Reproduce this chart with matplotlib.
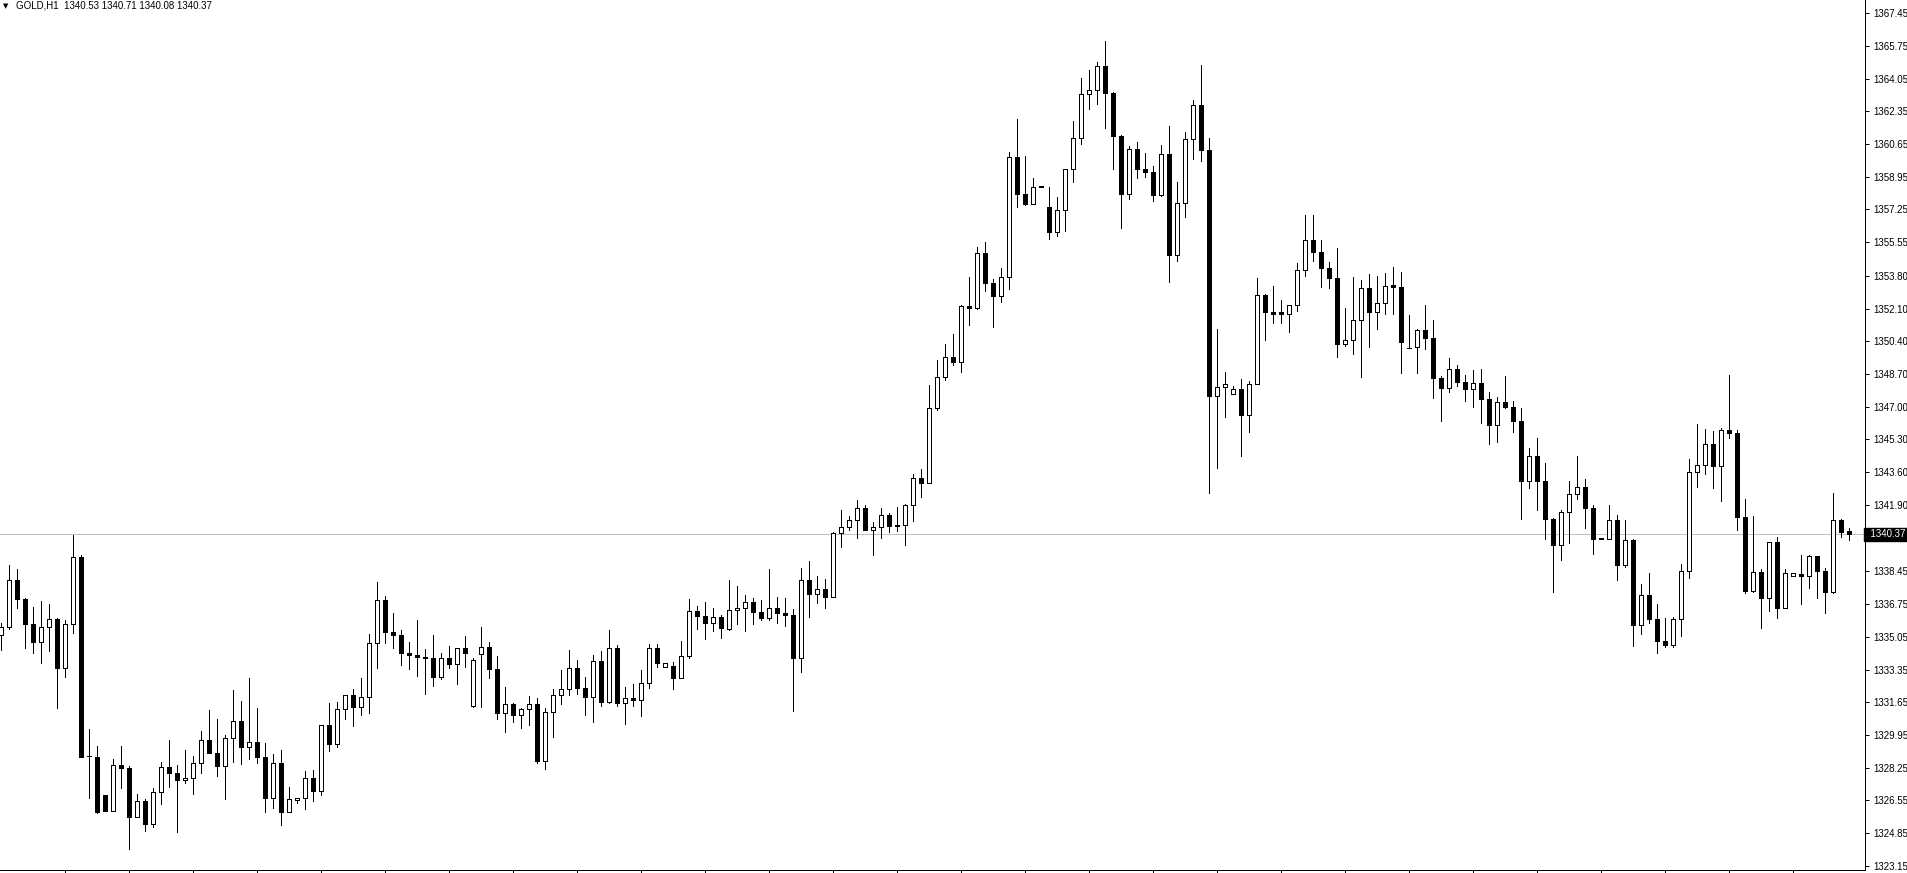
import numpy as np
import matplotlib.pyplot as plt
import matplotlib.transforms as mtransforms

plt.rcParams['font.family'] = ['Liberation Sans', 'DejaVu Sans']

symbol = "GOLD,H1"

opens = [
    1335.14, 1335.54, 1338.00, 1337.00, 1335.70, 1334.80, 1335.54, 1335.96, 1333.41, 1335.71,
    1339.18, 1328.86, 1328.79, 1326.83, 1326.02, 1328.39, 1328.25, 1325.67, 1326.52, 1325.31,
    1326.97, 1328.27, 1327.99, 1327.59, 1327.70, 1328.48, 1329.67, 1329.03, 1328.34, 1329.78,
    1330.66, 1329.34, 1329.57, 1328.83, 1326.68, 1328.48, 1325.96, 1326.56, 1326.66, 1327.70,
    1327.05, 1330.47, 1329.46, 1331.28, 1332.03, 1331.39, 1331.91, 1334.71, 1336.95, 1335.31,
    1335.16, 1334.22, 1334.12, 1334.02, 1333.96, 1332.98, 1333.93, 1333.65, 1334.45, 1331.47,
    1334.14, 1334.54, 1333.36, 1331.11, 1331.54, 1331.00, 1331.28, 1331.54, 1328.60, 1331.13,
    1332.03, 1332.32, 1333.41, 1332.40, 1331.94, 1333.77, 1331.68, 1334.45, 1331.63, 1331.85,
    1331.78, 1332.63, 1334.45, 1333.46, 1333.55, 1332.93, 1334.04, 1336.37, 1336.11, 1335.78,
    1336.06, 1335.45, 1336.43, 1336.53, 1336.84, 1336.32, 1336.04, 1336.53, 1336.27, 1336.20,
    1333.96, 1337.98, 1337.29, 1337.52, 1337.10, 1340.43, 1340.74, 1341.12, 1341.72, 1340.61,
    1340.74, 1341.36, 1340.82, 1340.84, 1341.88, 1343.28, 1343.05, 1346.92, 1348.56, 1349.57,
    1349.34, 1352.23, 1352.11, 1354.97, 1353.41, 1352.77, 1353.72, 1359.97, 1358.04, 1357.55,
    1358.47, 1357.36, 1356.06, 1357.21, 1359.34, 1360.95, 1363.23, 1363.44, 1364.69, 1363.31,
    1361.08, 1358.07, 1360.39, 1359.37, 1359.21, 1358.02, 1360.11, 1354.90, 1357.57, 1360.89,
    1362.66, 1360.35, 1347.57, 1348.01, 1347.65, 1347.90, 1346.59, 1348.18, 1352.79, 1351.94,
    1351.91, 1351.84, 1352.27, 1354.09, 1355.65, 1355.02, 1354.22, 1353.70, 1350.28, 1350.45,
    1351.49, 1353.15, 1351.94, 1352.37, 1353.31, 1353.24, 1350.07, 1350.12, 1350.99, 1350.59,
    1348.51, 1347.99, 1348.96, 1348.30, 1347.94, 1348.22, 1347.42, 1346.07, 1347.25, 1346.99,
    1346.28, 1343.15, 1344.44, 1343.15, 1341.18, 1339.83, 1341.52, 1342.45, 1342.82, 1341.76,
    1340.17, 1340.14, 1341.12, 1338.78, 1340.06, 1335.66, 1337.21, 1336.00, 1334.85, 1334.62,
    1335.96, 1338.45, 1343.59, 1343.95, 1345.05, 1343.93, 1345.78, 1345.65, 1341.26, 1337.44,
    1338.40, 1337.08, 1339.96, 1336.53, 1338.19, 1338.30, 1338.22, 1339.23, 1338.48, 1337.39,
    1341.12, 1340.53]

highs = [
    1335.75, 1338.78, 1338.57, 1337.08, 1336.61, 1336.91, 1336.75, 1336.01, 1335.92, 1340.34,
    1339.30, 1330.26, 1329.38, 1326.83, 1328.69, 1329.38, 1328.33, 1326.90, 1326.61, 1327.18,
    1328.55, 1329.69, 1328.37, 1329.17, 1328.86, 1330.15, 1331.25, 1330.78, 1329.95, 1332.29,
    1331.71, 1332.91, 1331.35, 1329.53, 1328.96, 1329.16, 1327.24, 1326.66, 1328.08, 1328.13,
    1330.47, 1331.63, 1331.66, 1332.03, 1332.34, 1332.93, 1335.20, 1337.90, 1337.17, 1336.29,
    1335.40, 1334.78, 1335.92, 1334.41, 1335.14, 1334.21, 1334.56, 1334.45, 1335.09, 1333.93,
    1335.56, 1334.76, 1334.05, 1332.44, 1331.59, 1331.33, 1332.00, 1331.87, 1331.33, 1332.34,
    1333.33, 1334.36, 1333.84, 1332.95, 1334.10, 1334.31, 1335.40, 1334.61, 1332.44, 1332.58,
    1333.33, 1334.67, 1334.67, 1333.67, 1333.72, 1334.83, 1337.01, 1336.65, 1336.86, 1336.53,
    1336.18, 1338.00, 1337.69, 1337.21, 1337.06, 1336.96, 1338.57, 1337.12, 1337.05, 1336.48,
    1338.62, 1338.99, 1338.21, 1338.05, 1340.48, 1341.64, 1341.33, 1342.16, 1341.90, 1341.00,
    1341.72, 1341.48, 1341.79, 1341.93, 1343.52, 1343.77, 1348.13, 1349.43, 1350.24, 1350.78,
    1352.27, 1353.74, 1355.28, 1355.56, 1353.62, 1354.21, 1360.23, 1361.95, 1360.01, 1358.88,
    1358.47, 1358.42, 1357.90, 1359.34, 1361.85, 1364.08, 1364.49, 1364.91, 1366.00, 1363.35,
    1361.12, 1360.55, 1360.75, 1360.18, 1359.52, 1360.60, 1361.58, 1358.68, 1361.27, 1362.94,
    1364.75, 1360.96, 1351.02, 1348.81, 1348.06, 1348.44, 1348.34, 1353.69, 1352.86, 1353.27,
    1352.55, 1352.27, 1354.47, 1356.96, 1356.96, 1355.65, 1354.50, 1355.23, 1352.11, 1353.72,
    1353.57, 1353.88, 1353.78, 1353.93, 1354.24, 1353.98, 1351.77, 1351.04, 1352.29, 1351.51,
    1348.60, 1349.53, 1349.17, 1348.65, 1348.91, 1348.96, 1347.77, 1347.52, 1348.60, 1347.30,
    1346.95, 1344.86, 1345.39, 1344.08, 1341.20, 1341.64, 1343.14, 1344.44, 1343.24, 1341.91,
    1340.17, 1341.90, 1341.39, 1341.12, 1340.14, 1337.79, 1338.36, 1336.75, 1336.02, 1336.08,
    1338.83, 1344.28, 1346.10, 1345.84, 1345.74, 1345.88, 1348.65, 1345.79, 1342.21, 1341.34,
    1338.57, 1339.96, 1340.25, 1338.56, 1338.35, 1339.30, 1339.28, 1339.23, 1338.61, 1342.52,
    1341.17, 1340.71]

lows = [
    1334.36, 1335.44, 1336.56, 1334.48, 1334.19, 1333.67, 1334.33, 1331.37, 1332.98, 1335.26,
    1328.79, 1326.66, 1325.88, 1326.02, 1326.02, 1327.21, 1324.01, 1325.67, 1324.98, 1325.19,
    1326.35, 1327.26, 1324.92, 1327.44, 1326.90, 1327.99, 1329.03, 1327.83, 1326.62, 1328.56,
    1328.42, 1328.70, 1328.51, 1325.96, 1326.17, 1325.27, 1325.96, 1326.43, 1326.10, 1326.53,
    1326.83, 1329.11, 1329.34, 1330.79, 1330.43, 1331.00, 1331.11, 1333.44, 1334.74, 1334.48,
    1333.60, 1333.39, 1333.03, 1332.09, 1332.51, 1332.88, 1333.44, 1332.61, 1333.49, 1331.42,
    1331.42, 1332.93, 1330.79, 1330.12, 1330.64, 1330.33, 1330.49, 1328.51, 1328.20, 1329.86,
    1331.57, 1332.04, 1332.09, 1331.00, 1330.64, 1331.47, 1331.63, 1331.47, 1330.54, 1331.47,
    1330.95, 1332.40, 1333.49, 1333.46, 1332.34, 1332.93, 1333.96, 1335.45, 1334.95, 1335.35,
    1335.00, 1335.40, 1335.71, 1335.37, 1335.71, 1335.94, 1335.94, 1335.78, 1335.62, 1331.21,
    1333.24, 1336.09, 1336.82, 1336.56, 1337.10, 1339.73, 1340.60, 1340.20, 1340.61, 1339.30,
    1340.20, 1340.51, 1340.56, 1339.82, 1341.08, 1342.33, 1343.02, 1346.83, 1348.39, 1349.17,
    1348.81, 1351.24, 1352.06, 1353.03, 1351.16, 1352.46, 1353.13, 1357.39, 1357.48, 1357.55,
    1358.40, 1355.73, 1355.89, 1356.14, 1358.69, 1360.66, 1362.48, 1362.71, 1361.50, 1359.37,
    1356.30, 1357.81, 1358.90, 1358.95, 1357.70, 1357.96, 1353.50, 1354.59, 1356.87, 1359.89,
    1359.78, 1342.54, 1343.83, 1346.48, 1347.65, 1344.46, 1345.70, 1348.18, 1350.47, 1351.37,
    1351.37, 1350.90, 1351.99, 1353.79, 1354.59, 1353.24, 1353.18, 1349.60, 1350.17, 1349.76,
    1348.56, 1350.12, 1351.05, 1351.84, 1351.84, 1348.74, 1350.04, 1348.77, 1350.00, 1347.47,
    1346.28, 1347.78, 1348.09, 1347.32, 1347.00, 1346.17, 1345.08, 1345.19, 1346.94, 1345.70,
    1341.17, 1342.80, 1341.65, 1340.14, 1337.39, 1339.04, 1339.94, 1342.22, 1340.72, 1339.37,
    1340.14, 1340.14, 1338.02, 1338.69, 1334.58, 1335.21, 1335.78, 1334.22, 1334.53, 1334.53,
    1335.09, 1338.12, 1342.84, 1343.52, 1342.80, 1342.12, 1345.39, 1340.60, 1337.31, 1337.36,
    1335.52, 1336.41, 1336.04, 1336.53, 1338.19, 1336.75, 1337.59, 1337.06, 1336.30, 1337.31,
    1340.25, 1340.08]

closes = [
    1335.54, 1338.00, 1337.00, 1335.70, 1334.80, 1335.54, 1335.96, 1333.41, 1335.71, 1339.18,
    1328.79, 1328.86, 1325.96, 1326.02, 1328.39, 1328.25, 1325.67, 1326.52, 1325.31, 1326.97,
    1328.27, 1327.99, 1327.59, 1327.70, 1328.48, 1329.67, 1329.03, 1328.34, 1329.78, 1330.66,
    1329.34, 1329.57, 1328.83, 1326.68, 1328.48, 1325.96, 1326.61, 1326.66, 1327.70, 1327.05,
    1330.47, 1329.46, 1331.28, 1332.03, 1331.39, 1331.91, 1334.71, 1336.95, 1335.31, 1335.16,
    1334.22, 1334.12, 1334.02, 1333.96, 1332.98, 1333.93, 1333.65, 1334.45, 1334.22, 1333.83,
    1334.54, 1333.36, 1331.11, 1331.54, 1331.00, 1331.28, 1331.54, 1328.60, 1331.13, 1332.03,
    1332.32, 1333.41, 1332.40, 1331.94, 1333.77, 1331.68, 1334.45, 1331.63, 1331.85, 1331.78,
    1332.63, 1334.45, 1333.67, 1333.67, 1332.93, 1334.04, 1336.37, 1336.11, 1335.78, 1336.06,
    1335.52, 1336.43, 1336.53, 1336.84, 1336.32, 1336.04, 1336.53, 1336.27, 1336.20, 1333.96,
    1337.98, 1337.29, 1337.52, 1337.10, 1340.43, 1340.74, 1341.12, 1341.72, 1340.61, 1340.74,
    1341.36, 1340.82, 1340.84, 1341.88, 1343.28, 1343.05, 1346.92, 1348.56, 1349.57, 1349.34,
    1352.23, 1352.11, 1354.97, 1353.41, 1352.77, 1353.72, 1359.97, 1358.04, 1357.55, 1358.40,
    1358.40, 1356.06, 1357.21, 1359.34, 1360.95, 1363.23, 1363.44, 1364.69, 1363.31, 1361.08,
    1358.07, 1360.39, 1359.37, 1359.21, 1358.02, 1360.11, 1354.90, 1357.57, 1360.89, 1362.66,
    1360.35, 1347.57, 1348.01, 1348.17, 1347.90, 1346.59, 1348.18, 1352.79, 1351.94, 1351.84,
    1351.84, 1352.27, 1354.09, 1355.65, 1355.02, 1354.22, 1353.70, 1350.28, 1350.45, 1351.49,
    1353.15, 1351.94, 1352.37, 1353.26, 1353.24, 1350.38, 1350.07, 1350.99, 1350.59, 1348.51,
    1347.99, 1348.96, 1348.30, 1347.94, 1348.22, 1347.42, 1346.07, 1347.25, 1346.99, 1346.28,
    1343.15, 1344.44, 1343.15, 1341.18, 1339.83, 1341.52, 1342.45, 1342.82, 1341.76, 1340.14,
    1340.14, 1341.12, 1338.78, 1340.06, 1335.66, 1337.21, 1336.00, 1334.85, 1334.62, 1335.96,
    1338.45, 1343.59, 1343.95, 1345.05, 1343.93, 1345.78, 1345.65, 1341.26, 1337.44, 1338.40,
    1337.08, 1339.96, 1336.53, 1338.35, 1338.35, 1338.22, 1339.23, 1338.48, 1337.39, 1341.12,
    1340.51, 1340.37]

# scale labels; the one under the current-price box is left blank
price_ticks = [1367.45, 1365.75, 1364.05, 1362.35, 1360.65, 1358.95, 1357.25, 1355.55,
               1353.80, 1352.10, 1350.40, 1348.70, 1347.00, 1345.30, 1343.60, 1341.90,
               1340.20, 1338.45, 1336.75, 1335.05, 1333.35, 1331.65, 1329.95, 1328.25,
               1326.55, 1324.85, 1323.15]
hidden_tick = 1340.20

# price scale of the window
top_price = 1368.13
px_per_dollar = 19.25

W, H = 1908, 873
fig = plt.figure(figsize=(W / 100, H / 100), dpi=100)
plot_h = 870
plot_w = 1865
ax = fig.add_axes([0, (H - plot_h) / H, plot_w / W, plot_h / H])

o = np.array(opens)
c = np.array(closes)
x = np.arange(len(c))
up = c >= o
body_lo = np.minimum(o, c)
body_h = np.abs(c - o)

lw = 0.72  # one pixel
ax.vlines(x, lows, highs, color='black', lw=lw, antialiased=False, zorder=2)
ax.bar(x[up], body_h[up], bottom=body_lo[up], width=0.5, facecolor='white',
       edgecolor='black', linewidth=lw, antialiased=False, zorder=3)
ax.bar(x[~up], body_h[~up], bottom=body_lo[~up], width=0.5, facecolor='black',
       edgecolor='black', linewidth=lw, antialiased=False, zorder=3)

last = closes[-1]
ax.axhline(last, color='#c0c0c0', lw=lw, zorder=1)

ax.set_xlim(-0.1, plot_w / 8 - 0.1)
ax.set_ylim(top_price - plot_h / px_per_dollar, top_price)

for s in ['left', 'top']:
    ax.spines[s].set_visible(False)
for s in ['right', 'bottom']:
    ax.spines[s].set_color('black')
    ax.spines[s].set_linewidth(lw)

ax.yaxis.tick_right()
ax.set_yticks(price_ticks)
ax.set_yticklabels(['' if p == hidden_tick else '%.2f' % p for p in price_ticks])
ax.tick_params(axis='y', direction='out', length=3, width=lw, pad=3,
               labelsize=7, colors='black')
ax.set_xticks(np.arange(8, len(c), 8))
ax.set_xticklabels([])
ax.tick_params(axis='x', direction='out', length=3, width=lw)

trans = mtransforms.blended_transform_factory(ax.transAxes, ax.transData)
ax.text(1.0, last, '  %.2f  ' % last, transform=trans, ha='left', va='center',
        color='white', fontsize=7, clip_on=False, zorder=10,
        bbox=dict(facecolor='black', edgecolor='black', boxstyle='square,pad=0.15'))

fig.text(3 / W, 1 - 6 / H, '\u25BC', fontsize=5, va='center', ha='left',
         family='DejaVu Sans')
fig.text(16 / W, 1 - 6 / H, '%s  %.2f %.2f %.2f %.2f' % (symbol, opens[-1], highs[-1],
         lows[-1], closes[-1]), fontsize=7, va='center', ha='left')

fig.savefig('out.png', dpi=100, facecolor='white')
